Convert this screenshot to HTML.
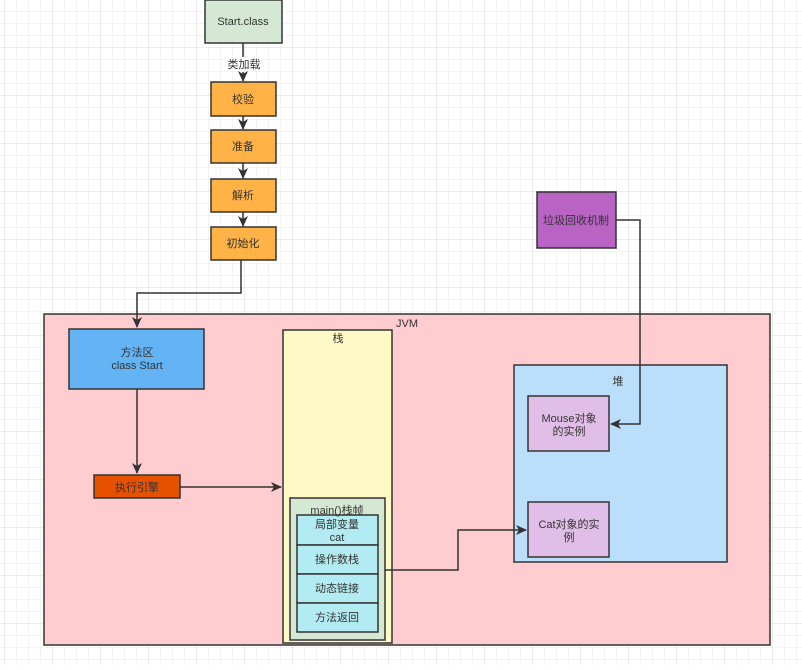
<!DOCTYPE html>
<html><head><meta charset="utf-8"><style>
html,body{margin:0;padding:0;background:#fff}
svg text{font-family:"Liberation Sans","Noto Sans CJK SC",sans-serif;font-size:11px;fill:#333}
</style></head><body>
<svg width="802" height="665" xmlns="http://www.w3.org/2000/svg">
<defs>
<pattern id="g" width="12" height="12" patternUnits="userSpaceOnUse" x="4" y="-1"><path d="M0 0H12M0 0V12" stroke="#e8e8e8" stroke-width="1" fill="none"/></pattern>
<pattern id="G" width="48" height="48" patternUnits="userSpaceOnUse" x="4" y="-1"><path d="M0 0H48M0 0V48" stroke="#d8d8d8" stroke-width="1" fill="none"/></pattern>
<marker id="a" markerWidth="12" markerHeight="12" refX="10" refY="5" orient="auto" markerUnits="userSpaceOnUse"><path d="M0 0L11 5L0 10L3 5Z" fill="#333"/></marker>
</defs>
<rect width="802" height="665" fill="url(#g)"/>
<rect width="802" height="665" fill="url(#G)"/>
<g stroke="#333" stroke-width="1.5">
<rect x="205" y="0" width="77" height="43" fill="#d5e8d4"/>
<rect x="211" y="82" width="65" height="34" fill="#ffb347"/>
<rect x="211" y="130" width="65" height="33" fill="#ffb347"/>
<rect x="211" y="179" width="65" height="33" fill="#ffb347"/>
<rect x="211" y="227" width="65" height="33" fill="#ffb347"/>
<rect x="537" y="192" width="79" height="56" fill="#b963c4"/>
<rect x="44" y="314" width="726" height="331" fill="#ffccd0"/>
<rect x="69" y="329" width="135" height="60" fill="#63b3f5"/>
<rect x="94" y="475" width="86" height="23" fill="#e65100"/>
<rect x="283" y="330" width="109" height="313" fill="#fff9c6"/>
<rect x="290" y="498" width="95" height="142" fill="#d5e8d4"/>
<rect x="297" y="515" width="81" height="30" fill="#b3ebf2"/>
<rect x="297" y="545" width="81" height="29" fill="#b3ebf2"/>
<rect x="297" y="574" width="81" height="29" fill="#b3ebf2"/>
<rect x="297" y="603" width="81" height="29" fill="#b3ebf2"/>
<rect x="514" y="365" width="213" height="197" fill="#bbdefa"/>
<rect x="528" y="396" width="81" height="55" fill="#e1bee7"/>
<rect x="528" y="502" width="81" height="55" fill="#e1bee7"/>
</g>
<g stroke="#333" stroke-width="1.5" fill="none" marker-end="url(#a)">
<path d="M243 43V57M243 72V81"/>
<path d="M243 116V129"/>
<path d="M243 163V178"/>
<path d="M243 212V226"/>
<path d="M241 260V293H137V327"/>
<path d="M137 389V473"/>
<path d="M180 487H281"/>
<path d="M616 220H640V424H611"/>
<path d="M385 570H458V530H526"/>
</g>
<rect x="226" y="58" width="36" height="13" fill="#fff"/>
<g text-anchor="middle">
<text x="243" y="25">Start.class</text>
<text x="244" y="68">类加载</text>
<text x="243" y="103">校验</text>
<text x="243" y="150">准备</text>
<text x="243" y="199">解析</text>
<text x="243" y="247">初始化</text>
<text x="576" y="224">垃圾回收机制</text>
<text x="407" y="327">JVM</text>
<text x="137" y="356">方法区</text>
<text x="137" y="369">class Start</text>
<text x="137" y="491">执行引擎</text>
<text x="338" y="342">栈</text>
<text x="337" y="514">main()栈帧</text>
<text x="337" y="528">局部变量</text>
<text x="337" y="541">cat</text>
<text x="337" y="563">操作数栈</text>
<text x="337" y="592">动态链接</text>
<text x="337" y="621">方法返回</text>
<text x="618" y="385">堆</text>
<text x="569" y="422">Mouse对象</text>
<text x="569" y="435">的实例</text>
<text x="569" y="528">Cat对象的实</text>
<text x="569" y="541">例</text>
</g>
</svg>
</body></html>
